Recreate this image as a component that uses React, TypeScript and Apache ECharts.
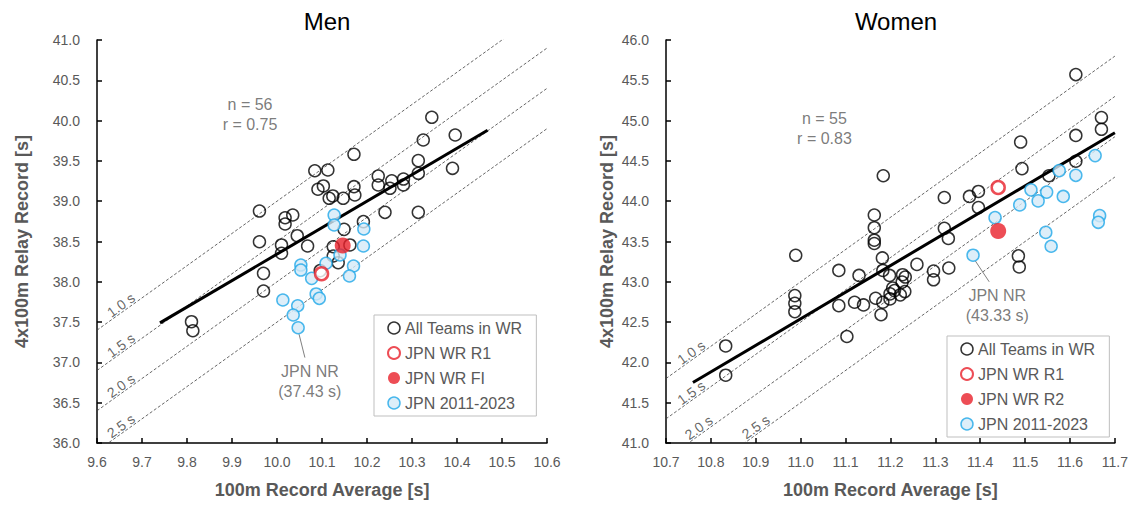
import React, { useEffect, useRef } from "react";
import * as echarts from "echarts";

// ---------- Data ----------
const MEN_ALL: [number, number][] = [
  [9.81, 37.505], [9.813, 37.393], [9.961, 38.878], [9.961, 38.497], [9.97, 38.105], [9.97, 37.886],
  [10.01, 38.457], [10.01, 38.354], [10.018, 38.795], [10.035, 38.829], [10.018, 38.717], [10.045, 38.572],
  [10.068, 38.444], [10.084, 39.378], [10.113, 39.387], [10.103, 39.189], [10.091, 39.148], [10.116, 39.036],
  [10.124, 39.065], [10.147, 39.036], [10.171, 39.582], [10.171, 39.18], [10.173, 39.077], [10.125, 38.435],
  [10.162, 38.457], [10.149, 38.651], [10.192, 38.746], [10.125, 38.32], [10.136, 38.237], [10.225, 39.313],
  [10.225, 39.201], [10.255, 39.254], [10.251, 39.16], [10.281, 39.275], [10.281, 39.201], [10.24, 38.862],
  [10.314, 39.503], [10.314, 39.346], [10.314, 38.862], [10.325, 39.759], [10.344, 40.041], [10.39, 39.408],
  [10.396, 39.821], [10.096, 38.138],
];
const MEN_JPN: [number, number][] = [
  [10.127, 38.829], [10.127, 38.705], [10.193, 38.655], [10.192, 38.444], [10.14, 38.333], [10.109, 38.23],
  [10.053, 38.208], [10.053, 38.146], [10.077, 38.043], [10.17, 38.196], [10.161, 38.072], [10.087, 37.849],
  [10.094, 37.795], [10.013, 37.774], [10.046, 37.703], [10.036, 37.588], [10.047, 37.43],
];
const MEN_R1: [number, number][] = [[10.099, 38.1]];
const MEN_FI: [number, number][] = [[10.146, 38.45]];
const MEN_FIT: [number, number][] = [[9.74, 37.49], [10.468, 39.88]];

const WOMEN_ALL: [number, number][] = [
  [11.184, 44.316], [11.164, 43.829], [11.164, 43.671], [11.164, 43.516], [11.164, 43.475], [10.989, 43.329],
  [11.613, 45.571], [11.67, 45.038], [11.67, 44.892], [11.613, 44.816], [11.49, 44.734], [11.493, 44.404],
  [11.613, 44.496], [11.553, 44.316], [11.396, 44.121], [11.376, 44.059], [11.32, 44.046], [11.396, 43.921],
  [11.32, 43.663], [11.329, 43.538], [11.485, 43.321], [11.487, 43.184], [11.182, 43.296], [11.085, 43.141],
  [11.13, 43.079], [11.183, 43.141], [11.198, 43.079], [11.227, 43.088], [11.233, 43.059], [11.259, 43.216],
  [11.296, 43.134], [11.296, 43.025], [11.226, 42.996], [11.205, 42.921], [11.209, 42.891], [11.199, 42.85],
  [11.222, 42.838], [11.232, 42.879], [11.199, 42.788], [11.183, 42.746], [11.167, 42.796], [11.179, 42.591],
  [10.987, 42.829], [10.987, 42.734], [10.987, 42.629], [11.085, 42.704], [11.12, 42.746], [11.14, 42.713],
  [11.103, 42.321], [10.833, 42.204], [10.833, 41.841], [11.33, 43.171],
];
const WOMEN_JPN: [number, number][] = [
  [11.384, 43.33], [11.433, 43.796], [11.488, 43.954], [11.513, 44.141], [11.548, 44.113], [11.529, 44.004],
  [11.585, 44.059], [11.576, 44.379], [11.613, 44.321], [11.656, 44.566], [11.546, 43.613], [11.558, 43.441],
  [11.666, 43.821], [11.663, 43.738],
];
const WOMEN_R1: [number, number][] = [[11.44, 44.17]];
const WOMEN_R2: [number, number][] = [[11.44, 43.63]];
const WOMEN_FIT: [number, number][] = [[10.76, 41.75], [11.7, 44.85]];

const GAPS = [1.0, 1.5, 2.0, 2.5];
const GAP_LABEL_X_MEN = [9.653, 9.653, 9.653, 9.653];
const GAP_LABEL_X_WOMEN = [10.756, 10.756, 10.773, 10.9];

const MEN_X = { min: 9.6, max: 10.6 };
const MEN_Y = { min: 36, max: 41 };
const WOMEN_X = { min: 10.7, max: 11.7 };
const WOMEN_Y = { min: 41, max: 46 };

const MEN_STATS = { pos: [9.94, 40.07] as [number, number], text: "n = 56\nr = 0.75" };
const WOMEN_STATS = { pos: [11.053, 44.9] as [number, number], text: "n = 55\nr = 0.83" };
const MEN_NR = { text: "JPN NR\n(37.43 s)", pos: [10.073, 36.76] as [number, number], leader: [[10.049, 37.35], [10.062, 37.06]] as [number, number][] };
const WOMEN_NR = { text: "JPN NR\n(43.33 s)", pos: [11.438, 42.7] as [number, number], leader: [[11.389, 43.26], [11.42, 43.0]] as [number, number][] };

const LEGEND_MEN = ["All Teams in WR", "JPN WR R1", "JPN WR FI", "JPN 2011-2023"];
const LEGEND_WOMEN = ["All Teams in WR", "JPN WR R1", "JPN WR R2", "JPN 2011-2023"];

const FONT = "'Liberation Sans', Arial, sans-serif";
const GREY = "#595959";

const STYLE_ALL = { color: "transparent", borderColor: "#000", borderWidth: 1.5 };
const STYLE_JPN = { color: "#d5eaf7", borderColor: "#1fa8e8", borderWidth: 1.5 };
const STYLE_R1 = { color: "#ffffff", borderColor: "#e8202a", borderWidth: 2.5 };
const STYLE_FI = { color: "#e8202a", borderColor: "#e8202a", borderWidth: 0 };

function legendItems(names: string[]) {
  const styles: Record<string, any> = {
    "All Teams in WR": STYLE_ALL,
    "JPN WR R1": { ...STYLE_R1, borderWidth: 2 },
    "JPN WR FI": STYLE_FI,
    "JPN WR R2": STYLE_FI,
    "JPN 2011-2023": STYLE_JPN,
  };
  return names.map((n) => ({ name: n, itemStyle: styles[n] }));
}

function panelSeries(
  idx: number,
  all: [number, number][],
  jpn: [number, number][],
  r1: [number, number][],
  red: [number, number][],
  redName: string,
  fit: [number, number][],
  xr: { min: number; max: number },
  labelXs: number[],
  stats: { pos: [number, number]; text: string },
  nr: { text: string; pos: [number, number]; leader: [number, number][] }
) {
  const s: any[] = [];
  GAPS.forEach((g) => {
    s.push({
      type: "line",
      xAxisIndex: idx,
      yAxisIndex: idx,
      data: [[xr.min, 4 * xr.min - g], [xr.max, 4 * xr.max - g]],
      symbol: "none",
      clip: true,
      silent: true,
      lineStyle: { color: "#404040", width: 0.8, type: [3, 2] },
      z: 1,
    });
  });
  s.push({
    type: "scatter",
    xAxisIndex: idx,
    yAxisIndex: idx,
    data: GAPS.map((g, i) => ({ value: [labelXs[i], 4 * labelXs[i] - g + 0.1], label: { formatter: g.toFixed(1) + " s" } })),
    symbolSize: 1,
    itemStyle: { color: "transparent" },
    silent: true,
    label: {
      show: true,
      position: "inside",
      rotate: 35.6,
      fontSize: 14,
      color: "#404040",
      fontFamily: FONT,
    },
    z: 2,
  });
  s.push({
    type: "line",
    xAxisIndex: idx,
    yAxisIndex: idx,
    data: fit,
    symbol: "none",
    silent: true,
    lineStyle: { color: "#000", width: 3 },
    z: 2,
  });
  s.push({
    type: "line",
    xAxisIndex: idx,
    yAxisIndex: idx,
    data: nr.leader,
    symbol: "none",
    silent: true,
    lineStyle: { color: "#808080", width: 1 },
    z: 2,
  });
  [stats, nr].forEach((t) => {
    s.push({
      type: "scatter",
      xAxisIndex: idx,
      yAxisIndex: idx,
      data: [{ value: t.pos }],
      symbolSize: 1,
      itemStyle: { color: "transparent" },
      silent: true,
      label: {
        show: true,
        position: "inside",
        formatter: t.text,
        fontSize: 16,
        lineHeight: 20,
        align: "center",
        color: GREY,
        fontFamily: FONT,
      },
      z: 2,
    });
  });
  s.push({
    name: "All Teams in WR",
    type: "scatter",
    xAxisIndex: idx,
    yAxisIndex: idx,
    data: all,
    symbolSize: 12,
    itemStyle: STYLE_ALL,
    z: 3,
  });
  s.push({
    name: "JPN 2011-2023",
    type: "scatter",
    xAxisIndex: idx,
    yAxisIndex: idx,
    data: jpn,
    symbolSize: 12,
    itemStyle: STYLE_JPN,
    z: 4,
  });
  s.push({
    name: "JPN WR R1",
    type: "scatter",
    xAxisIndex: idx,
    yAxisIndex: idx,
    data: r1,
    symbolSize: 13,
    itemStyle: STYLE_R1,
    z: 5,
  });
  s.push({
    name: redName,
    type: "scatter",
    xAxisIndex: idx,
    yAxisIndex: idx,
    data: red,
    symbolSize: 16,
    itemStyle: STYLE_FI,
    z: 5,
  });
  return s;
}

function xAxisCfg(idx: number, r: { min: number; max: number }) {
  return {
    type: "value",
    gridIndex: idx,
    min: r.min,
    max: r.max,
    interval: 0.1,
    name: "100m Record Average [s]",
    nameLocation: "middle",
    nameGap: 38,
    nameTextStyle: { fontSize: 18, fontWeight: "bold", color: GREY, fontFamily: FONT },
    axisLine: { show: true, onZero: false, lineStyle: { color: "#000", width: 1.5 } },
    axisTick: { show: true, inside: true, length: 5, lineStyle: { color: "#000", width: 1.5 } },
    axisLabel: { fontSize: 14, color: GREY, fontFamily: FONT, margin: 12, formatter: (v: number) => v.toFixed(1) },
    splitLine: { show: false },
  };
}
function yAxisCfg(idx: number, r: { min: number; max: number }, nameGap: number) {
  return {
    type: "value",
    gridIndex: idx,
    min: r.min,
    max: r.max,
    interval: 0.5,
    name: "4x100m Relay Record [s]",
    nameLocation: "middle",
    nameGap,
    nameTextStyle: { fontSize: 18, fontWeight: "bold", color: GREY, fontFamily: FONT },
    axisLine: { show: true, onZero: false, lineStyle: { color: "#000", width: 1.5 } },
    axisTick: { show: true, inside: true, length: 5, lineStyle: { color: "#000", width: 1.5 } },
    axisLabel: { fontSize: 14, color: GREY, fontFamily: FONT, margin: 17, formatter: (v: number) => v.toFixed(1) },
    splitLine: { show: false },
  };
}

function legendCfg(names: string[], left: number, top: number) {
  return {
    data: legendItems(names),
    orient: "vertical",
    left,
    top,
    padding: [5, 14, 5, 13],
    itemGap: 9,
    itemWidth: 12,
    itemHeight: 12,
    icon: "circle",
    selectedMode: false,
    backgroundColor: "#fff",
    borderColor: "#bfbfbf",
    borderWidth: 1,
    borderRadius: 0,
    textStyle: { fontSize: 16, color: GREY, fontFamily: FONT },
  };
}

export default function App() {
  const ref = useRef<HTMLDivElement>(null);
  useEffect(() => {
    if (!ref.current) return;
    const chart = echarts.init(ref.current, undefined, { renderer: "svg" });
    chart.setOption({
      animation: false,
      backgroundColor: "#fff",
      textStyle: { fontFamily: FONT },
      title: [
        { text: "Men", left: 322, top: 4, textAlign: "center", textStyle: { fontSize: 24, fontWeight: "normal", color: "#000", fontFamily: FONT } },
        { text: "Women", left: 891, top: 4, textAlign: "center", textStyle: { fontSize: 24, fontWeight: "normal", color: "#000", fontFamily: FONT } },
      ],
      grid: [
        { left: 97, top: 40, width: 450, height: 403 },
        { left: 666, top: 40, width: 450, height: 403 },
      ],
      xAxis: [xAxisCfg(0, MEN_X), xAxisCfg(1, WOMEN_X)],
      yAxis: [yAxisCfg(0, MEN_Y, 66), yAxisCfg(1, WOMEN_Y, 50)],
      legend: [legendCfg(LEGEND_MEN, 374, 315), legendCfg(LEGEND_WOMEN, 947, 336)],
      series: [
        ...panelSeries(0, MEN_ALL, MEN_JPN, MEN_R1, MEN_FI, "JPN WR FI", MEN_FIT, MEN_X, GAP_LABEL_X_MEN, MEN_STATS, MEN_NR),
        ...panelSeries(1, WOMEN_ALL, WOMEN_JPN, WOMEN_R1, WOMEN_R2, "JPN WR R2", WOMEN_FIT, WOMEN_X, GAP_LABEL_X_WOMEN, WOMEN_STATS, WOMEN_NR),
      ],
    });
    return () => chart.dispose();
  }, []);
  return <div ref={ref} style={{ position: "absolute", left: 0, top: 0, width: 1131, height: 507 }} />;
}
